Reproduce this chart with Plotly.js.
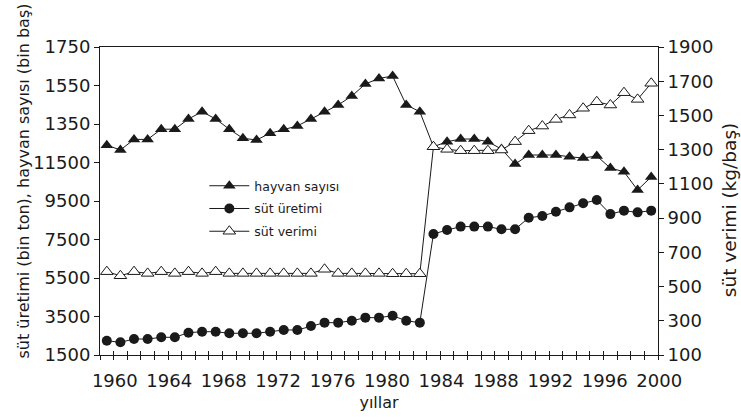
<!DOCTYPE html>
<html><head><meta charset="utf-8">
<script src="https://cdn.plot.ly/plotly-3.0.1.min.js"></script>
<style>html,body{margin:0;padding:0;background:#fff}</style>
</head><body><div id="chart" style="width:741px;height:417px"></div>
<script>
const years = [1960,1961,1962,1963,1964,1965,1966,1967,1968,1969,1970,1971,1972,1973,1974,1975,1976,1977,1978,1979,1980,1981,1982,1983,1984,1985,1986,1987,1988,1989,1990,1991,1992,1993,1994,1995,1996,1997,1998,1999,2000];
const hayvanSayisi = [12400,12150,12700,12700,13230,13230,13760,14140,13760,13230,12760,12670,13020,13230,13400,13760,14140,14490,14950,15580,15870,15990,14490,14140,12320,12580,12720,12720,12580,12200,11420,11890,11890,11890,11800,11730,11840,11210,11020,10070,10750];
const sutUretimi = [2240,2160,2330,2330,2420,2420,2660,2710,2710,2630,2630,2630,2710,2800,2800,3010,3180,3180,3280,3440,3440,3540,3280,3180,7790,7990,8170,8170,8170,8030,8030,8630,8720,8940,9170,9380,9550,8820,9000,8910,9000];
const sutVerimi = [587,563,587,577,587,577,587,577,587,577,577,577,577,577,577,577,601,577,577,577,577,575,575,575,1317,1302,1294,1294,1294,1298,1347,1411,1438,1477,1503,1542,1580,1561,1633,1594,1688];
const xTickVals = [1960,1964,1968,1972,1976,1980,1984,1988,1992,1996,2000];
const leftTickVals = [1500,3500,5500,7500,9500,11500,13500,15500,17500];
const leftTickText = ['1500','3500','5500','7500','9500','11500','1350','1550','1750'];
const rightTickVals = [100,300,500,700,900,1100,1300,1500,1700,1900];
const seriesNames = ['hayvan sayısı','süt üretimi','süt verimi'];
const xTitle = 'yıllar';
const leftTitle = 'süt üretimi (bin ton), hayvan sayısı (bin baş)';
const rightTitle = 'süt verimi (kg/baş)';

const ink = '#1a1a1a';
const traces = [
  {x: years, y: hayvanSayisi, name: seriesNames[0], legendgroup: 'a', type: 'scatter', mode: 'lines+markers',
   line: {color: ink, width: 1}, marker: {symbol: 'triangle-up', size: 11, color: ink}},
  {x: years, y: sutUretimi, name: seriesNames[1], legendgroup: 'b', type: 'scatter', mode: 'lines+markers',
   line: {color: ink, width: 1}, marker: {symbol: 'circle', size: 10, color: ink}},
  {x: years, y: sutVerimi, name: seriesNames[2], legendgroup: 'c', type: 'scatter', mode: 'lines+markers',
   xaxis: 'x2', yaxis: 'y2',
   line: {color: ink, width: 1}, marker: {symbol: 'triangle-up', size: 11, color: '#fff', line: {color: ink, width: 1}}}
];

const layout = {
  width: 741, height: 417,
  margin: {l: 100, r: 83, t: 47, b: 62},
  paper_bgcolor: '#fff', plot_bgcolor: '#fff',
  font: {family: 'DejaVu Sans', color: ink, size: 16},
  showlegend: true,
  legend: {x: 0.187, y: 0.597, xanchor: 'left', yanchor: 'top', bgcolor: 'rgba(0,0,0,0)',
           font: {size: 12.5}, tracegroupgap: 3.5, itemwidth: 40},
  xaxis: {
    range: [1959.5, 2000.5], tickmode: 'array', tickvals: xTickVals, ticks: '',
    showline: true, linecolor: ink, linewidth: 1, mirror: true,
    showgrid: false, zeroline: false, tickfont: {size: 18}, ticklabelshift: 8, ticklabelstandoff: 9,
    title: {text: xTitle, font: {size: 16}, standoff: 7},
    minor: {tickmode: 'linear', tick0: 1959.5, dtick: 1, ticks: 'outside', ticklen: 4, tickcolor: ink, showgrid: false}
  },
  xaxis2: {
    overlaying: 'x', anchor: 'y2', side: 'bottom', range: [1959.5, 2000.5],
    tickmode: 'linear', tick0: 1959.5, dtick: 1, ticks: 'inside', ticklen: 4, tickcolor: ink,
    showticklabels: false, showline: false, showgrid: false, zeroline: false
  },
  yaxis: {
    range: [1500, 17500], tickmode: 'array', tickvals: leftTickVals, ticktext: leftTickText,
    ticks: 'outside', ticklen: 5, tickcolor: ink, showline: true, linecolor: ink, linewidth: 1,
    showgrid: false, zeroline: false, tickfont: {size: 18}
  },
  yaxis2: {
    overlaying: 'y', side: 'right', anchor: 'x2', range: [100, 1900],
    tickmode: 'array', tickvals: rightTickVals,
    ticks: 'outside', ticklen: 5, tickcolor: ink, showline: true, linecolor: ink, linewidth: 1,
    showgrid: false, zeroline: false, tickfont: {size: 18}
  },
  annotations: [
    {text: leftTitle, xref: 'paper', yref: 'paper', x: -0.137, y: 0.565, xanchor: 'center', yanchor: 'middle',
     textangle: -90, showarrow: false, font: {size: 16}},
    {text: rightTitle, xref: 'paper', yref: 'paper', x: 1.1272, y: 0.47, xanchor: 'center', yanchor: 'middle',
     textangle: -90, showarrow: false, font: {size: 18.5}}
  ]
};

Plotly.newPlot('chart', traces, layout, {displayModeBar: false, staticPlot: true});
</script>
</body></html>
